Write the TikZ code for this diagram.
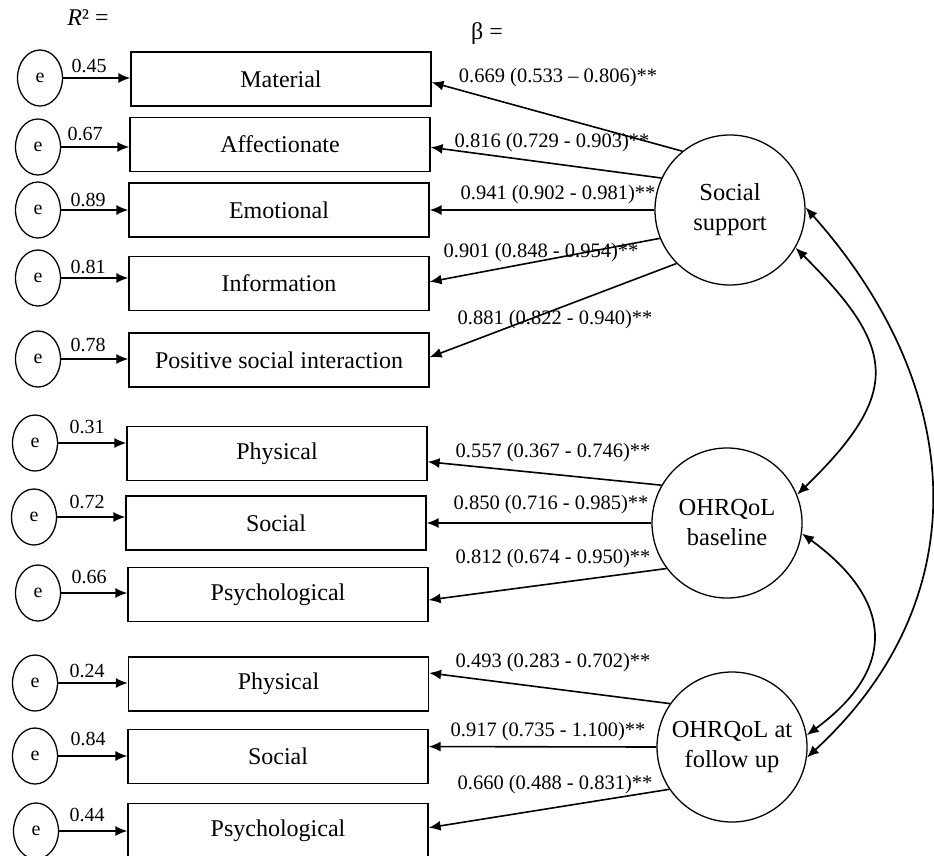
\documentclass[tikz,border=0pt]{standalone}
\usepackage{fontspec}
\setmainfont{Liberation Serif}
\usetikzlibrary{arrows.meta,shapes.geometric,calc}
\begin{document}
\begin{tikzpicture}[x=1pt,y=-1pt,
  obs/.style={draw, line width=1.2pt, minimum width=300pt, minimum height=54pt, inner sep=0pt, font=\fontsize{24}{29}\selectfont},
  err/.style={draw, ellipse, line width=1.3pt, minimum width=45pt, minimum height=56pt, inner sep=0pt, font=\fontsize{20}{24}\selectfont},
  lat/.style={draw, circle, line width=1.3pt, minimum size=150pt, inner sep=0pt, align=center, font=\fontsize{24.5}{30}\selectfont},
  arr/.style={line width=1.6pt, -{Latex[length=12pt,width=10pt]}},
  darr/.style={line width=1.7pt, {Latex[length=12pt,width=10pt]}-{Latex[length=12pt,width=10pt]}},
  lab/.style={font=\fontsize{20.5}{24}\selectfont, inner sep=0pt},
  rsq/.style={font=\fontsize{20}{24}\selectfont, inner sep=0pt},
  head/.style={font=\fontsize{24}{28}\selectfont, inner sep=0pt}
]
\useasboundingbox (0,0) rectangle (934,856);

% headers
\node[head] (r2) at (88,18) {\textit{R}² =};
\node[head] (beta) at (487,34) {β =};

% observed boxes
\node[obs] (mat) at (281,79) {Material};
\node[obs] (aff) at (280,144.5) {Affectionate};
\node[obs] (emo) at (279,210) {Emotional};
\node[obs] (inf) at (279,283.5) {Information};
\node[obs] (pos) at (279,360) {Positive social interaction};
\node[obs] (ph1) at (277,453.5) {Physical};
\node[obs] (so1) at (276,523) {Social};
\node[obs] (ps1) at (278,594.5) {Psychological};
\node[obs] (ph2) at (278.5,684) {Physical};
\node[obs] (so2) at (278,756.5) {Social};
\node[obs] (ps2) at (278,830.5) {Psychological};

% error terms
\node[err] (e1) at (40,78) {e};
\node[err] (e2) at (38,147) {e};
\node[err] (e3) at (38,210) {e};
\node[err] (e4) at (38,278) {e};
\node[err] (e5) at (38,359) {e};
\node[err] (e6) at (35,443) {e};
\node[err] (e7) at (34,517) {e};
\node[err] (e8) at (38,593) {e};
\node[err] (e9) at (35,683) {e};
\node[err] (e10) at (35,756) {e};
\node[err] (e11) at (36,831) {e};

\draw[arr] (e1) -- (e1 -| mat.west);
\draw[arr] (e2) -- (e2 -| aff.west);
\draw[arr] (e3) -- (e3 -| emo.west);
\draw[arr] (e4) -- (e4 -| inf.west);
\draw[arr] (e5) -- (e5 -| pos.west);
\draw[arr] (e6) -- (e6 -| ph1.west);
\draw[arr] (e7) -- (e7 -| so1.west);
\draw[arr] (e8) -- (e8 -| ps1.west);
\draw[arr] (e9) -- (e9 -| ph2.west);
\draw[arr] (e10) -- (e10 -| so2.west);
\draw[arr] (e11) -- (e11 -| ps2.west);

% R2 values
\node[rsq] (q1) at (89,66) {0.45};
\node[rsq] (q2) at (85,134) {0.67};
\node[rsq] (q3) at (88,200) {0.89};
\node[rsq] (q4) at (88,267) {0.81};
\node[rsq] (q5) at (88,345) {0.78};
\node[rsq] (q6) at (87,427) {0.31};
\node[rsq] (q7) at (87,502) {0.72};
\node[rsq] (q8) at (89,577) {0.66};
\node[rsq] (q9) at (87,671) {0.24};
\node[rsq] (q10) at (88,739) {0.84};
\node[rsq] (q11) at (87,815) {0.44};

% latent variables
\node[lat] (ss) at (730,210) {Social\\support};
\node[lat] (bl) at (727,523) {OHRQoL\\baseline};
\node[lat] (fu) at (732,747) {OHRQoL at\\follow up};

% loadings
\draw[arr] (ss.129) -- ($(mat.north east)!0.56!(mat.south east)$);
\draw[arr] (ss.155) -- ($(aff.north east)!0.55!(aff.south east)$);
\draw[arr] (ss.180) -- (emo.east);
\draw[arr] (ss.202) -- ($(inf.north east)!0.47!(inf.south east)$);
\draw[arr] (ss.225) -- ($(pos.north east)!0.45!(pos.south east)$);
\draw[arr] (bl.150) -- ($(ph1.north east)!0.65!(ph1.south east)$);
\draw[arr] (bl.180) -- (so1.east);
\draw[arr] (bl.217) -- ($(ps1.north east)!0.6!(ps1.south east)$);
\draw[arr] (fu.145) -- ($(ph2.north east)!0.3!(ph2.south east)$);
\draw[arr] (fu.180) -- ($(so2.north east)!0.32!(so2.south east)$);
\draw[arr] (fu.214) -- ($(ps2.north east)!0.45!(ps2.south east)$);

% loading labels
\node[lab] (l1) at (558,78) {0.669 (0.533 – 0.806)**};
\node[lab] (l2) at (552,143) {0.816 (0.729 - 0.903)**};
\node[lab] (l3) at (558,195) {0.941 (0.902 - 0.981)**};
\node[lab] (l4) at (541,253) {0.901 (0.848 - 0.954)**};
\node[lab] (l5) at (555,320) {0.881 (0.822 - 0.940)**};
\node[lab] (l6) at (553,453) {0.557 (0.367 - 0.746)**};
\node[lab] (l7) at (551,505) {0.850 (0.716 - 0.985)**};
\node[lab] (l8) at (553,559) {0.812 (0.674 - 0.950)**};
\node[lab] (l9) at (553,663) {0.493 (0.283 - 0.702)**};
\node[lab] (l10) at (548,732) {0.917 (0.735 - 1.100)**};
\node[lab] (l11) at (555,785) {0.660 (0.488 - 0.831)**};

% correlations
\draw[darr] (ss.-30) .. controls (897,348) and (902,393) .. (bl.22);
\draw[darr] (ss.2) .. controls (968,390) and (978,600) .. (fu.-8);
\draw[darr] (bl.-8) .. controls (893,600) and (898,668) .. (fu.9);
\end{tikzpicture}
\end{document}
